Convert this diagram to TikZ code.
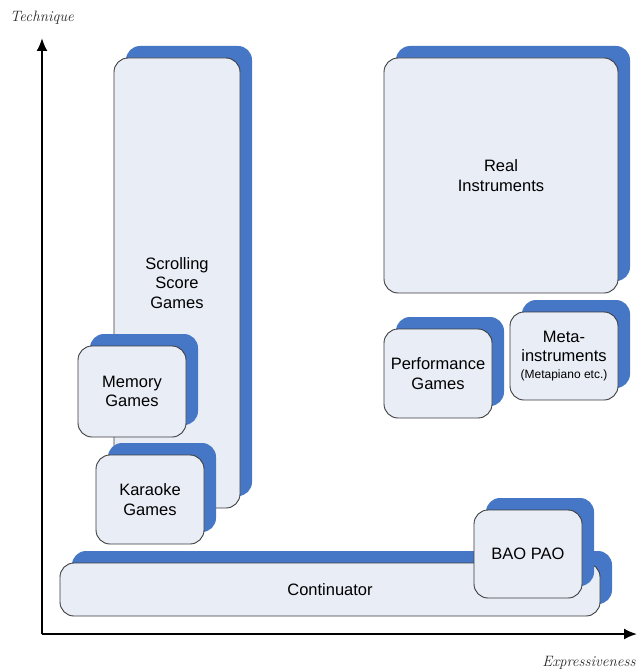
\documentclass[tikz,border=0pt]{standalone}
\usepackage{fontspec}
\setsansfont{Liberation Sans}
\usetikzlibrary{arrows.meta,shadows}

\definecolor{shadowblue}{HTML}{4677C6}
\definecolor{cardfill}{HTML}{E9EDF6}
\definecolor{cardline}{HTML}{3C3C3C}

\tikzset{
  card/.style={draw=cardline, line width=0.9pt, fill=cardfill,
    rounded corners=14pt, inner sep=0pt, align=center,
    font=\sffamily\fontsize{16.5}{19.5}\selectfont,
    drop shadow={shadow xshift=12pt, shadow yshift=12pt,
      fill=shadowblue, opacity=1, draw=none}},
  axislabel/.style={font=\itshape\fontsize{15}{17}\selectfont, text=black!85}
}

\begin{document}
\begin{tikzpicture}[x=1pt,y=-1pt]
  % Fix the page to the size of the reference
  \useasboundingbox (0,0) rectangle (637,671);

  % Axes
  \coordinate (O) at (42,634);
  \coordinate (Ytop) at (42,38);
  \coordinate (Xend) at (637,634);
  \draw[line width=2pt, -{Latex[length=13pt,width=11pt]}] (O) -- (Ytop);
  \draw[line width=2pt, -{Latex[length=13pt,width=11pt]}] (O) -- (Xend);
  \node[axislabel] (technique) at (42,18) {Technique};
  \node[axislabel] (expr) at (589,663) {Expressiveness};

  % Left column
  \node[card, minimum width=126pt, minimum height=450pt] (scroll) at (177,283) {Scrolling\\Score\\Games};
  \node[card, minimum width=108pt, minimum height=91pt] (memory) at (132,391.5) {Memory\\Games};
  \node[card, minimum width=108pt, minimum height=89pt] (karaoke) at (150,499.5) {Karaoke\\Games};

  % Right group
  \node[card, minimum width=234pt, minimum height=235pt] (real) at (501,175.5) {Real\\Instruments};
  \node[card, minimum width=108pt, minimum height=89pt] (perf) at (438,373.5) {Performance\\Games};
  \node[card, minimum width=108pt, minimum height=88pt] (meta) at (564,356)
    {Meta-\\instruments\\[-3pt]{\fontsize{12}{14}\selectfont(Metapiano etc.)}};

  % Bottom row
  \node[card, minimum width=540pt, minimum height=53pt] (cont) at (330,589.5) {Continuator};
  \node[card, minimum width=108pt, minimum height=88pt] (baopao) at (528,554) {BAO PAO};

\end{tikzpicture}
\end{document}
